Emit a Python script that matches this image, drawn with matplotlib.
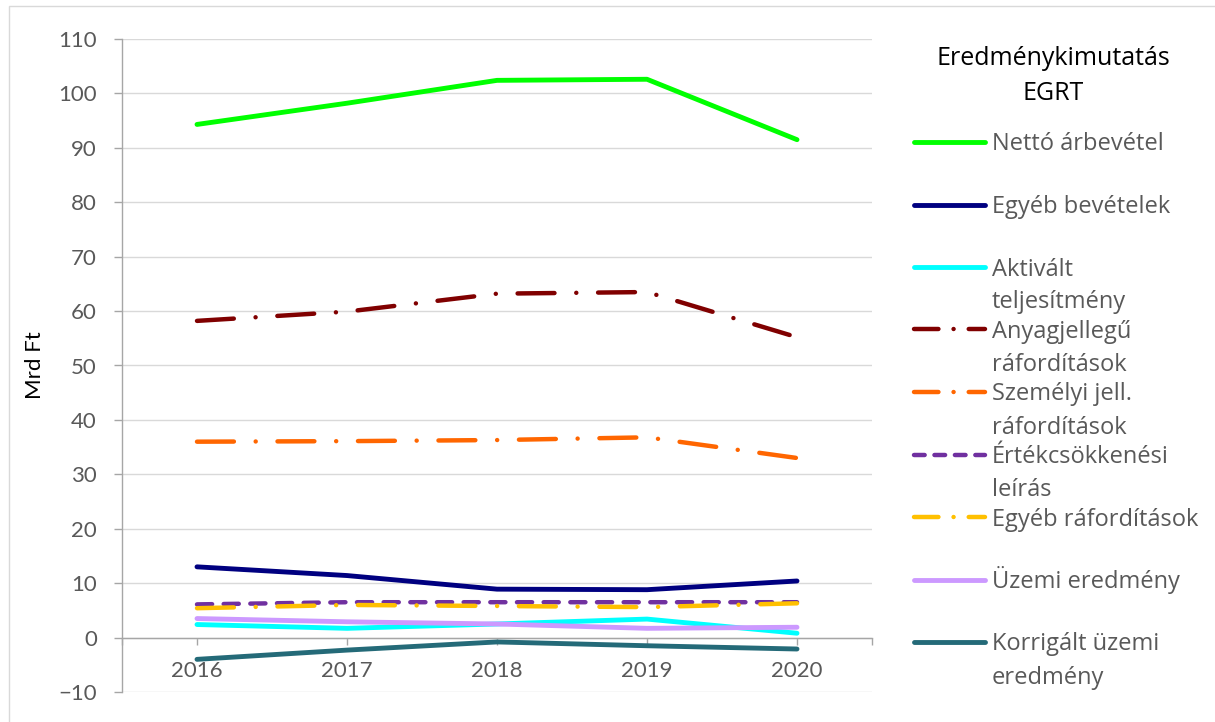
import matplotlib
import matplotlib.pyplot as plt
from matplotlib.lines import Line2D
from matplotlib.patches import Rectangle

matplotlib.use("Agg")
plt.rcParams["font.family"] = ["Lato", "DejaVu Sans"]

# Adatok (Mrd Ft)
evek = [2016, 2017, 2018, 2019, 2020]
netto_arbevetel = [94.3, 98.2, 102.4, 102.6, 91.5]
egyeb_bevetelek = [13.0, 11.4, 8.9, 8.8, 10.4]
aktivalt_teljesitmeny = [2.4, 1.7, 2.5, 3.4, 0.8]
anyagjellegu = [58.2, 59.9, 63.2, 63.5, 55.2]
szemelyi_jell = [36.0, 36.1, 36.3, 36.8, 33.0]
ertekcsokkenes = [6.1, 6.5, 6.5, 6.5, 6.5]
egyeb_raforditasok = [5.4, 6.0, 5.8, 5.6, 6.3]
uzemi_eredmeny = [3.5, 2.9, 2.5, 1.7, 1.9]
korrigalt_uzemi = [-4.0, -2.3, -0.8, -1.5, -2.1]

DASHDOT = (8.3, 4.9, 0.01, 4.9)
DASH = (3.4, 2.6)

sorozatok = [
    ("Nettó árbevétel", netto_arbevetel, "#00FF00", None),
    ("Egyéb bevételek", egyeb_bevetelek, "#000080", None),
    ("Aktivált\nteljesítmény", aktivalt_teljesitmeny, "#00FFFF", None),
    ("Anyagjellegű\nráfordítások", anyagjellegu, "#800000", DASHDOT),
    ("Személyi jell.\nráfordítások", szemelyi_jell, "#FF6600", DASHDOT),
    ("Értékcsökkenési\nleírás", ertekcsokkenes, "#7030A0", DASH),
    ("Egyéb ráfordítások", egyeb_raforditasok, "#FFC000", DASHDOT),
    ("Üzemi eredmény", uzemi_eredmeny, "#CC99FF", None),
    ("Korrigált üzemi\neredmény", korrigalt_uzemi, "#246A78", None),
]

W, H = 1215, 722
fig = plt.figure(figsize=(W / 100, H / 100), dpi=100)
ax = fig.add_axes([122 / W, 1 - 692 / H, (872 - 122) / W, (692 - 39) / H])

szurke = "#A6A6A6"
for nev, ertekek, szin, minta in sorozatok:
    lw = 3.5 if minta is None else 3.2
    (vonal,) = ax.plot(evek, ertekek, color=szin, lw=lw,
                       solid_capstyle="round", dash_capstyle="round")
    if minta is not None:
        vonal.set_dashes(minta)

ax.set_xlim(2015.5, 2020.5)
ax.set_ylim(-10, 110)
ax.set_yticks(range(-10, 111, 10))
ax.set_xticks(evek)
ax.set_xticks([2015.5, 2020.5], minor=True)
ax.grid(axis="y", color="#D9D9D9", lw=1.0)
ax.set_axisbelow(True)

for s in ("top", "right"):
    ax.spines[s].set_visible(False)
ax.spines["left"].set_color(szurke)
ax.spines["left"].set_linewidth(1.0)
ax.spines["bottom"].set_position(("data", 0))
ax.spines["bottom"].set_color(szurke)
ax.spines["bottom"].set_linewidth(1.0)

ax.tick_params(axis="y", length=6, width=1.0, color=szurke, pad=12,
               labelsize=16, labelcolor="#595959")
ax.tick_params(axis="x", which="both", length=5, width=1.0, color=szurke,
               pad=12, labelsize=16, labelcolor="#595959")

fig.text(35 / W, 1 - 365 / H, "Mrd Ft", rotation=90, ha="center", va="center",
         fontsize=16, color="black")

# Jelmagyarázat (Excel-szerű elrendezés)
jm_font = ["Open Sans", "DejaVu Sans"]
fig.text(1053 / W, 1 - 65 / H, "Eredménykimutatás", ha="center",
         va="baseline", fontsize=18, color="black", family=jm_font)
fig.text(1053 / W, 1 - 100 / H, "EGRT", ha="center", va="baseline",
         fontsize=18, color="black", family=jm_font)
for i, (nev, ertekek, szin, minta) in enumerate(sorozatok):
    yk = 142 + i * 62.5
    lw = 3.5 if minta is None else 3.2
    jel = Line2D([914 / W, 985 / W], [1 - yk / H, 1 - yk / H], color=szin, lw=lw,
                 solid_capstyle="round", dash_capstyle="round",
                 transform=fig.transFigure)
    if minta is not None:
        jel.set_dashes((5.5, 3.4, 0.01, 3.4) if minta == DASHDOT else (2.4, 2.2))
    fig.add_artist(jel)
    for j, sor in enumerate(nev.split("\n")):
        fig.text(992 / W, 1 - (yk + 8.5 + j * 33) / H, sor, ha="left",
                 va="baseline", fontsize=17, color="#595959", family=jm_font)

keret = Rectangle((9 / W, -0.1), 1.2, 1 - 6 / H + 0.1, transform=fig.transFigure,
                  fill=False, edgecolor="#D9D9D9", lw=1.0, clip_on=False)
fig.add_artist(keret)

fig.savefig("out.png", dpi=100, facecolor="white")
plt.close(fig)
